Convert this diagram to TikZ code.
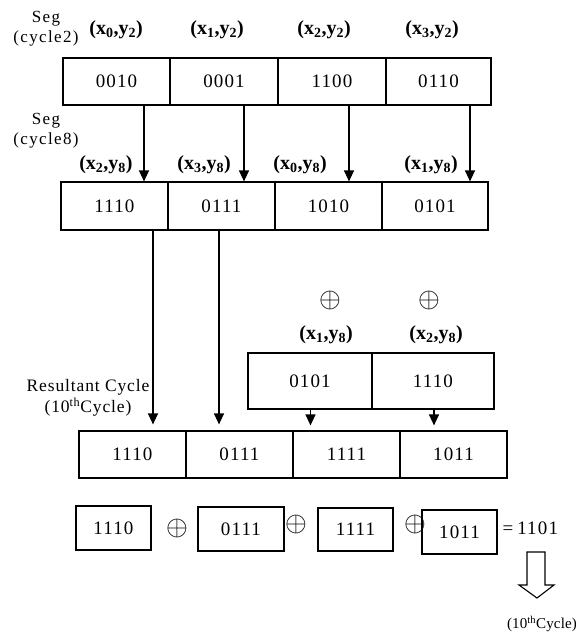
\documentclass[tikz,border=0pt]{standalone}
\usepackage{fontspec}
\setmainfont{Liberation Serif}
\usetikzlibrary{arrows.meta,calc}
\newcommand{\xorsym}{\scalebox{2.8}{$\oplus$}}
\begin{document}
\begin{tikzpicture}[x=1pt,y=-1pt,
  cell/.style={draw, line width=1.2pt, inner sep=0pt, minimum height=47pt,
    font=\fontsize{19}{21}\selectfont\addfontfeature{LetterSpace=6}},
  lab/.style={font=\fontsize{20}{22}\selectfont\bfseries},
  seg/.style={font=\fontsize{17}{19}\selectfont\addfontfeature{LetterSpace=8}, align=center, inner sep=0pt},
  xo/.style={inner sep=0pt},
  arr/.style={line width=1.3pt, -{Triangle[width=10pt,length=11pt]}}
]
\useasboundingbox (0,0) rectangle (576,633);

% Row 1
\node[cell, minimum width=107pt] (r1a) at (116.5,81.5) {0010};
\node[cell, minimum width=108pt] (r1b) at (224,81.5) {0001};
\node[cell, minimum width=108pt] (r1c) at (332,81.5) {1100};
\node[cell, minimum width=105pt] (r1d) at (438.5,81.5) {0110};
\node[lab] (l1a) at (116,30) {(x\textsubscript{0},y\textsubscript{2})};
\node[lab] (l1b) at (217,30) {(x\textsubscript{1},y\textsubscript{2})};
\node[lab] (l1c) at (324,30) {(x\textsubscript{2},y\textsubscript{2})};
\node[lab] (l1d) at (432,30) {(x\textsubscript{3},y\textsubscript{2})};
\node[seg] (s1) at (46,29) {Seg\\[1pt](cycle2)};

% Row 2
\node[cell, minimum width=107pt, minimum height=48pt] (r2a) at (114.5,206) {1110};
\node[cell, minimum width=107pt, minimum height=48pt] (r2b) at (221.5,206) {0111};
\node[cell, minimum width=107pt, minimum height=48pt] (r2c) at (328.5,206) {1010};
\node[cell, minimum width=106pt, minimum height=48pt] (r2d) at (435,206) {0101};
\node[lab] (l2a) at (106,165) {(x\textsubscript{2},y\textsubscript{8})};
\node[lab] (l2b) at (204,165) {(x\textsubscript{3},y\textsubscript{8})};
\node[lab] (l2c) at (300,165) {(x\textsubscript{0},y\textsubscript{8})};
\node[lab] (l2d) at (431,165) {(x\textsubscript{1},y\textsubscript{8})};
\node[seg] (s2) at (46,131) {Seg\\[1pt](cycle8)};

% arrows row1 -> row2
\draw[arr] ([xshift=27.5pt]r1a.south) -- ([xshift=27.5pt]r1a.south |- r2a.north);
\draw[arr] ([xshift=20pt]r1b.south) -- ([xshift=20pt]r1b.south |- r2b.north);
\draw[arr] ([xshift=17pt]r1c.south) -- ([xshift=17pt]r1c.south |- r2c.north);
\draw[arr] ([xshift=31.5pt]r1d.south) -- ([xshift=31.5pt]r1d.south |- r2d.north);

% Middle pair
\node[cell, minimum width=124pt, minimum height=56pt] (ma) at (310,381) {0101};
\node[cell, minimum width=122pt, minimum height=56pt] (mb) at (433,381) {1110};
\node[xo] (xa) at (330,300) {\xorsym};
\node[xo] (xb) at (429,300) {\xorsym};
\node[lab] (lma) at (326,335) {(x\textsubscript{1},y\textsubscript{8})};
\node[lab] (lmb) at (436,335) {(x\textsubscript{2},y\textsubscript{8})};

% Row 3
\node[cell, minimum width=107pt] (r3a) at (132.5,454.5) {1110};
\node[cell, minimum width=107pt] (r3b) at (239.5,454.5) {0111};
\node[cell, minimum width=107pt] (r3c) at (346.5,454.5) {1111};
\node[cell, minimum width=107pt] (r3d) at (453.5,454.5) {1011};
\node[seg, font=\fontsize{17.5}{19}\selectfont\addfontfeature{LetterSpace=5}] (res) at (88,398) {Resultant Cycle\\[2pt](10\textsuperscript{th}Cycle)};

% arrows row2 -> row3
\draw[arr, shorten >=6pt] ([xshift=38.5pt]r2a.south) -- ([xshift=38.5pt]r2a.south |- r3a.north);
\draw[arr, shorten >=6pt] ([xshift=-2.5pt]r2b.south) -- ([xshift=-2.5pt]r2b.south |- r3b.north);
% arrows middle -> row3
\draw[arr, shorten >=5pt] (ma.south -| r3c.center) ++(-36pt,0) coordinate (mas) -- (mas |- r3c.north);
\draw[arr, shorten >=5pt] ([xshift=1pt]mb.south) -- ([xshift=1pt]mb.south |- r3d.north);

% Bottom equation
\node[cell, minimum width=75pt, minimum height=44pt] (b1) at (113.5,528) {1110\hspace{8pt}};
\node[xo] (p1) at (177,528) {\xorsym};
\node[cell, minimum width=86pt, minimum height=44pt] (b2) at (241,529) {0111\hspace{12pt}};
\node[xo] (p2) at (296,524) {\xorsym};
\node[cell, minimum width=75pt, minimum height=43pt] (b3) at (355.5,529.5) {1111\hspace{10pt}};
\node[xo] (p3) at (415,524) {\xorsym};
\node[cell, minimum width=75pt, minimum height=44pt] (b4) at (459.5,532) {1011\hspace{12pt}};
\node[cell, draw=none, anchor=west] (res2) at (502,528) {=\hspace{4pt}1101};

% hollow arrow
\draw[line width=1.1pt, line join=miter]
  (527,552) -- (545,552) -- (545,585) -- (554,585) -- (537,598) -- (519,585) -- (527,585) -- cycle;
\node[seg, font=\fontsize{15}{17}\selectfont\addfontfeature{LetterSpace=1}] (tenth) at (542,624) {(10\textsuperscript{th}Cycle)};
\end{tikzpicture}
\end{document}
